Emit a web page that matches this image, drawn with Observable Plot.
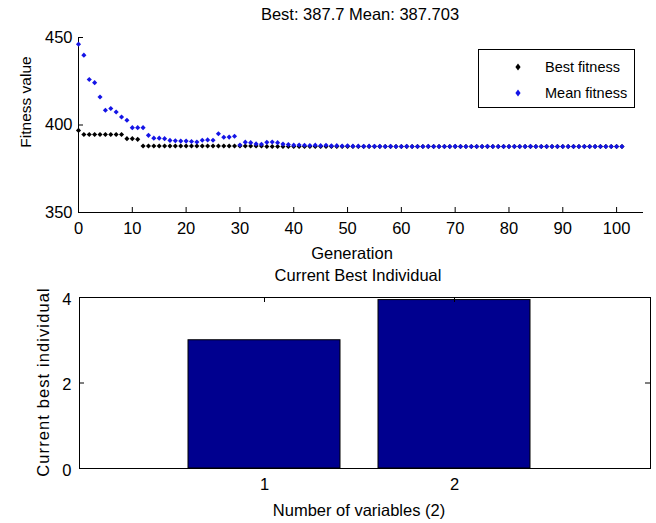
<!DOCTYPE html>
<html><head><meta charset="utf-8">
<script src="https://cdn.jsdelivr.net/npm/d3@7"></script>
<script src="https://cdn.jsdelivr.net/npm/@observablehq/plot@0.6"></script>
<style>
html,body{margin:0;padding:0;background:#fff;}
#fig{position:relative;width:656px;height:523px;overflow:hidden;background:#fff;
  font-family:"Liberation Sans",Arial,Helvetica,sans-serif;}
#top,#bottom{position:absolute;left:0;}
#top{top:0;} #bottom{top:262px;}
#legend{position:absolute;left:478px;top:49px;width:157px;height:59px;border:1px solid #000;background:#fff;box-sizing:border-box;}
#legend .row{position:absolute;left:0;height:20px;width:100%;}
#legend svg{position:absolute;left:33px;top:4px;}
#legend span{position:absolute;left:66px;top:0;font-size:14.5px;line-height:20px;color:#000;white-space:nowrap;}
</style>
</head><body>
<div id="fig"><div id="top"></div><div id="bottom"></div>
<div id="legend">
  <div class="row" style="top:7px"><svg width="12" height="12"><path d="M6,2.6 L8.6,6 L6,9.4 L3.4,6Z" fill="#000"/></svg><span id="lg0"></span></div>
  <div class="row" style="top:33px"><svg width="12" height="12"><path d="M6,2.6 L8.6,6 L6,9.4 L3.4,6Z" fill="#1414e6"/></svg><span id="lg1"></span></div>
</div>
</div>
<script>
// ---- data ----
const titleTop = "Best: 387.7 Mean: 387.703";
const titleBottom = "Current Best Individual";
const xLabelTop = "Generation";
const yLabelTop = "Fitness value";
const xLabelBottom = "Number of variables (2)";
const yLabelBottom = "Current best individual";
const legendLabels = ["Best fitness", "Mean fitness"];

const xTicksTop = [0, 10, 20, 30, 40, 50, 60, 70, 80, 90, 100];
const yTicksTop = [350, 400, 450];
const xDomainTop = [0, 105];
const yDomainTop = [350, 450];

const bestFitness = [
  396.9, 394.6, 394.6, 394.6, 394.6, 394.6, 394.6, 394.6, 394.6, 392.2,
  392.2, 391.8, 388.0, 388.0, 388.0, 388.0, 388.0, 388.0, 388.0, 388.0,
  388.0, 388.0, 388.0, 388.0, 388.0, 388.0, 388.0, 388.0, 388.0, 388.0,
  388.0, 388.0, 388.0, 388.0, 388.0, 387.7, 387.7, 387.7, 387.7, 387.7,
  387.7, 387.7, 387.7, 387.7, 387.7, 387.7, 387.7, 387.7, 387.7, 387.7,
  387.7, 387.7, 387.7, 387.7, 387.7, 387.7, 387.7, 387.7, 387.7, 387.7,
  387.7, 387.7, 387.7, 387.7, 387.7, 387.7, 387.7, 387.7, 387.7, 387.7,
  387.7, 387.7, 387.7, 387.7, 387.7, 387.7, 387.7, 387.7, 387.7, 387.7,
  387.7, 387.7, 387.7, 387.7, 387.7, 387.7, 387.7, 387.7, 387.7, 387.7,
  387.7, 387.7, 387.7, 387.7, 387.7, 387.7, 387.7, 387.7, 387.7, 387.7,
  387.7, 387.7
];
const meanFitness = [
  446.2, 439.9, 426.0, 424.2, 416.0, 408.4, 409.4, 407.4, 404.6, 402.7,
  398.5, 398.5, 398.5, 394.1, 392.5, 392.5, 392.2, 391.2, 391.0, 390.8,
  390.8, 390.6, 390.3, 391.3, 391.5, 391.3, 395.0, 393.0, 393.1, 393.6,
  388.6, 390.2, 389.9, 389.2, 389.0, 390.1, 390.3, 389.9, 389.1, 388.8,
  388.5, 388.6, 388.4, 388.3, 388.5, 388.2, 388.4, 388.1, 388.2, 388.0,
  388.1, 387.9, 387.9, 387.8, 387.9, 387.8, 387.8, 387.7, 387.8, 387.7,
  387.7, 387.8, 387.7, 387.7, 387.7, 387.8, 387.7, 387.7, 387.7, 387.7,
  387.8, 387.7, 387.7, 387.7, 387.7, 387.7, 387.8, 387.7, 387.7, 387.7,
  387.7, 387.7, 387.7, 387.7, 387.8, 387.7, 387.7, 387.7, 387.7, 387.7,
  387.7, 387.7, 387.7, 387.7, 387.7, 387.7, 387.7, 387.7, 387.7, 387.7,
  387.7, 387.703
];

const variables = ["1", "2"];
const bestIndividual = [3.0, 3.94];
const yTicksBottom = [0, 2, 4];
const yDomainBottom = [0, 4];

// ---- styles ----
const FONT = '"Liberation Sans",Arial,Helvetica,sans-serif';
const FS = 16.5;
const W = 656;
const BLUE = "#1414e6";
const BAR = "#00008f";

document.getElementById("lg0").textContent = legendLabels[0];
document.getElementById("lg1").textContent = legendLabels[1];

// ---- top plot ----
const topH = 262, tML = 78, tMR = 13, tMT = 37, tMB = 50;
const tFW = W - tML - tMR, tFH = topH - tMT - tMB;
const fit = meanFitness.map((m, i) => ({gen: i, best: bestFitness[i], mean: m}));

const topPlot = Plot.plot({
  width: W, height: topH,
  marginLeft: tML, marginRight: tMR, marginTop: tMT, marginBottom: tMB,
  style: {fontFamily: FONT, fontSize: FS + "px", background: "transparent", color: "#000", overflow: "visible"},
  x: {domain: xDomainTop},
  y: {domain: yDomainTop},
  marks: [
    Plot.axisX(xTicksTop, {tickSize: 0, tickPadding: 10, fontSize: FS, label: null}),
    Plot.axisY(yTicksTop, {tickSize: 0, tickPadding: 6, fontSize: FS, label: null}),
    Plot.ruleX([xDomainTop[0]], {stroke: "#000"}),
    Plot.ruleY([yDomainTop[0]], {stroke: "#000"}),
    Plot.ruleX(xTicksTop, {x: d => d, insetTop: tFH - 5, stroke: "#000"}),
    Plot.ruleY(yTicksTop, {y: d => d, insetRight: tFW - 5, stroke: "#000"}),
    Plot.dot(fit, {x: "gen", y: "best", symbol: "diamond2", r: 2.3, fill: "#000", stroke: "none"}),
    Plot.dot(fit, {x: "gen", y: "mean", symbol: "diamond2", r: 2.3, fill: BLUE, stroke: "none"}),
    Plot.text([titleTop], {text: d => d, frameAnchor: "top", textAnchor: "middle", lineAnchor: "middle", dy: -23, dx: -1, fontSize: FS, fill: "#000"}),
    Plot.text([xLabelTop], {text: d => d, frameAnchor: "bottom", textAnchor: "middle", lineAnchor: "middle", dy: 41, dx: -9, fontSize: FS, fill: "#000"}),
    Plot.text([yLabelTop], {text: d => d, frameAnchor: "left", textAnchor: "middle", lineAnchor: "middle", rotate: -90, dx: -52, dy: -23, fontSize: 15.5, fill: "#000"})
  ]
});
document.getElementById("top").append(topPlot);

// ---- bottom plot ----
const botH = 261, bML = 79, bMR = 6, bMT = 35, bMB = 55;
const bFW = W - bML - bMR, bFH = botH - bMT - bMB;
const bars = variables.map((v, i) => ({v, value: bestIndividual[i]}));

const botPlot = Plot.plot({
  width: W, height: botH,
  marginLeft: bML, marginRight: bMR, marginTop: bMT, marginBottom: bMB,
  style: {fontFamily: FONT, fontSize: FS + "px", background: "transparent", color: "#000", overflow: "visible"},
  x: {type: "band", domain: variables, paddingInner: 0.2, paddingOuter: 0.6, align: 0.475},
  y: {domain: yDomainBottom},
  marks: [
    Plot.barY(bars, {x: "v", y: "value", fill: BAR, stroke: "#000", strokeWidth: 1}),
    Plot.frame({stroke: "#000"}),
    Plot.axisX({tickSize: 0, tickPadding: 10, fontSize: FS, label: null}),
    Plot.axisY(yTicksBottom, {tickSize: 0, tickPadding: 8, dy: 2, fontSize: FS, label: null}),
    Plot.ruleX(variables, {x: d => d, insetBottom: bFH - 5, stroke: "#000"}),
    Plot.ruleY(yTicksBottom, {y: d => d, insetRight: bFW - 5, stroke: "#000"}),
    Plot.ruleY(yTicksBottom, {y: d => d, insetLeft: bFW - 5, stroke: "#000"}),
    Plot.text([titleBottom], {text: d => d, frameAnchor: "top", textAnchor: "middle", lineAnchor: "middle", dy: -22, dx: -7, fontSize: FS, fill: "#000"}),
    Plot.text([xLabelBottom], {text: d => d, frameAnchor: "bottom", textAnchor: "middle", lineAnchor: "middle", dy: 42, dx: -6, fontSize: FS, fill: "#000"}),
    Plot.text([yLabelBottom], {text: d => d, frameAnchor: "left", textAnchor: "middle", lineAnchor: "middle", rotate: -90, dx: -36, dy: -1, fontSize: FS, fill: "#000"})
  ]
});
// widen the spaced-out y label like the reference
d3.select(botPlot).selectAll("text").filter(function() { return this.textContent === yLabelBottom; })
  .style("letter-spacing", "1.1px");
document.getElementById("bottom").append(botPlot);
</script>
</body></html>
